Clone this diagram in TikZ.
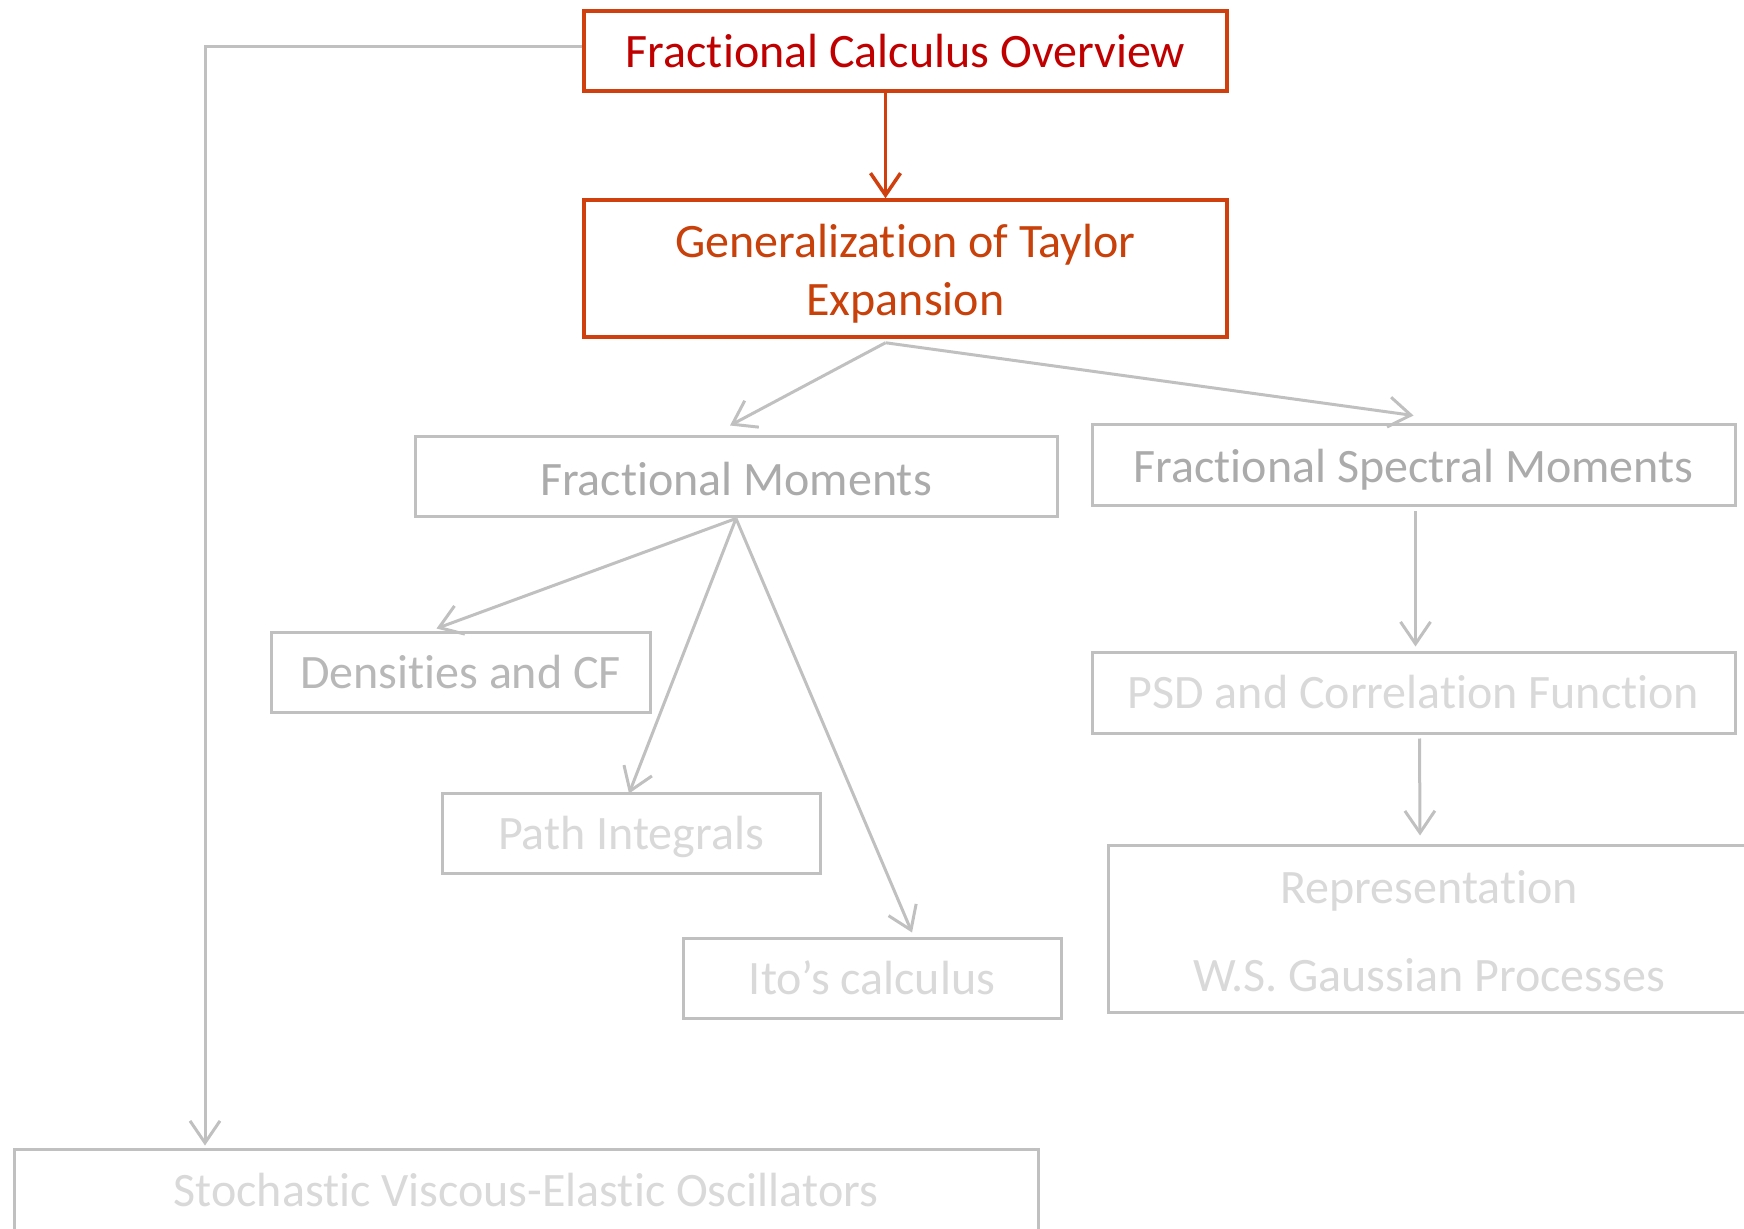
\documentclass[tikz,border=0pt]{standalone}
\usepackage{fontspec}
\setmainfont{Carlito}[Ligatures=NoCommon]
\usetikzlibrary{positioning,arrows.meta}

\definecolor{ovrText}{HTML}{C00000}
\definecolor{ovrLine}{HTML}{D0400E}
\definecolor{taylorText}{HTML}{C8400A}
\definecolor{lineGray}{HTML}{C0C0C0}
\definecolor{midGray}{HTML}{ABABAB}
\definecolor{softGray}{HTML}{B8B8B8}
\definecolor{paleGray}{HTML}{D9D9D9}

\begin{document}
\begin{tikzpicture}[
    x=0.5pt, y=-0.5pt,
    >={Straight Barb[length=11pt,width=15pt]},
    font=\fontsize{24}{29}\selectfont,
    redbox/.style={draw=ovrLine, line width=1.75pt, fill=white, rectangle, align=center, inner sep=0pt},
    graybox/.style={draw=lineGray, line width=1.5pt, fill=white, rectangle, align=center, inner sep=0pt},
    arrow/.style={->, line width=1.5pt, draw=lineGray},
    redarrow/.style={->, line width=1.75pt, draw=ovrLine}
]
    \useasboundingbox (0,0) rectangle (1744,1229);

    % Blocks
    \node[redbox, text=ovrText, minimum width=321.5pt, minimum height=40pt] (overview) at (905.5,51) {Fractional Calculus Overview};
    \node[redbox, text=taylorText, minimum width=321.5pt, minimum height=68.5pt] (taylor) at (905.5,268.5) {\rule{0pt}{22pt}Generalization of Taylor\\Expansion};
    \node[graybox, text=midGray, minimum width=321pt, minimum height=40pt, text height=19pt] (fracmom) at (736,477) {Fractional Moments};
    \node[graybox, text=midGray, minimum width=321.5pt, minimum height=40.5pt, text depth=0pt] (specmom) at (1413.5,465.5) {Fractional Spectral Moments};
    \node[graybox, text=softGray, minimum width=189.5pt, minimum height=40pt] (densities) at (460.5,672) {Densities and CF};
    \node[graybox, text=paleGray, minimum width=189pt, minimum height=40pt, text depth=0pt] (pathint) at (631,833) {Path Integrals};
    \node[graybox, text=paleGray, minimum width=189pt, minimum height=40pt] (ito) at (872,978) {Ito’s calculus};
    \node[graybox, text=paleGray, minimum width=321.5pt, minimum height=40.5pt] (psd) at (1413.5,692.5) {PSD and Correlation Function};
    \node[graybox, text=paleGray, minimum width=321pt, minimum height=83.5pt] (repr) at (1429,928.5) {\rule{0pt}{19pt}Representation\\[15pt]W.S. Gaussian Processes};
    \node[graybox, text=paleGray, minimum width=512pt, minimum height=41pt] (oscill) at (526,1190) {Stochastic Viscous-Elastic Oscillators};

    \coordinate (corner) at (205,47);

    % Arrows
    \draw[redarrow] ([xshift=-10pt]overview.south) -- ([xshift=-10pt]taylor.north);
    \draw[arrow] ([xshift=-10pt,yshift=-2pt]taylor.south) -- ([xshift=-3pt,yshift=5pt]fracmom.north);
    \draw[arrow] ([xshift=-10pt,yshift=-2pt]taylor.south) -- ([yshift=4pt]specmom.north);
    \draw[arrow] (fracmom.south) -- ([xshift=-12pt,yshift=1pt]densities.north);
    \draw[arrow] (fracmom.south) -- ([xshift=-1pt,yshift=-1pt]pathint.north);
    \draw[arrow] (fracmom.south) -- ([xshift=20pt,yshift=2pt]ito.north);
    \draw[arrow] ([xshift=1pt,yshift=-2pt]specmom.south) -- ([xshift=1pt,yshift=2pt]psd.north);
    \draw[arrow] ([xshift=3pt,yshift=-2pt]psd.south) -- ([xshift=-4.5pt,yshift=4pt]repr.north);
    \draw[arrow] ([yshift=2pt]overview.west) -- (corner) -- ([yshift=1pt]corner |- oscill.north);
\end{tikzpicture}
\end{document}
